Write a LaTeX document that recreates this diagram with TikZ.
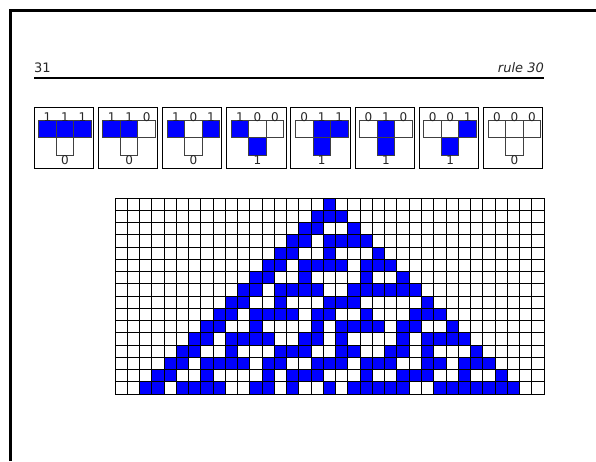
\documentclass[tikz,border=0pt]{standalone}
\usepackage{fontspec}
\setmainfont{DejaVu Sans}
\usepackage{xcolor}
\usepackage{tikz}

\colorlet{bit0}{white}
\colorlet{bit1}{blue}
\tikzset{
  cagrid/.style={draw=black, line width=1pt, line cap=rect},
  rulecell/.style={draw=black!75, line width=1pt},
  rulebox/.style={draw=black, line width=1pt},
  bitlabel/.style={anchor=base, inner sep=0pt, text=black!85, font=\fontsize{12}{13}\selectfont},
  headtext/.style={inner sep=0pt, text=black!85, font=\fontsize{13}{15}\selectfont},
}

\begin{document}
\begin{tikzpicture}[x=1pt,y=-1pt]
\useasboundingbox (0,0) rectangle (596,461);
\draw[line width=3pt] (10.5,461) -- (10.5,10.5) -- (596,10.5);
%
\node[headtext, anchor=base west] (pagenum) at (34,72) {31};
\node[headtext, anchor=base east, font=\fontsize{13}{15}\selectfont\itshape] (rulename) at (544,72) {rule 30};
\draw[line width=2pt] (34,77.5) -- (544,77.5);
%
% the eight neighbourhoods and what they give
\foreach \a/\b/\c/\o [count=\i from 0] in {1/1/1/0,1/1/0/0,1/0/1/0,1/0/0/1,0/1/1/1,0/1/0/1,0/0/1/1,0/0/0/0}{
  \pgfmathsetmacro\bx{34+64.2*\i}
  \draw[rulebox] (\bx,107) rectangle ++(59.5,61);
  \filldraw[rulecell, fill=bit\a] (\bx+4.7,120) rectangle ++(17.5,17.5);
  \filldraw[rulecell, fill=bit\b] (\bx+22.2,120) rectangle ++(17.5,17.5);
  \filldraw[rulecell, fill=bit\c] (\bx+39.7,120) rectangle ++(17.5,17.5);
  \filldraw[rulecell, fill=bit\o] (\bx+22.2,137.5) rectangle ++(17.5,17.5);
  \node[bitlabel] (left\i) at (\bx+13.45,121) {\a};
  \node[bitlabel] (mid\i) at (\bx+30.95,121) {\b};
  \node[bitlabel] (right\i) at (\bx+48.45,121) {\c};
  \node[bitlabel] (out\i) at (\bx+30.95,164) {\o};
}
%
% sixteen steps from one black cell
\foreach \r/\cells in {0/{17}, 1/{16,17,18}, 2/{15,16,19}, 3/{14,15,17,18,19,20},
  4/{13,14,17,21}, 5/{12,13,15,16,17,18,20,21,22}, 6/{11,12,15,20,23},
  7/{10,11,13,14,15,16,19,20,21,22,23,24}, 8/{9,10,13,17,18,19,25},
  9/{8,9,11,12,13,14,16,17,20,24,25,26}, 10/{7,8,11,16,18,19,20,21,23,24,27},
  11/{6,7,9,10,11,12,15,16,18,23,25,26,27,28}, 12/{5,6,9,13,14,15,18,19,22,23,25,29},
  13/{4,5,7,8,9,10,12,13,16,17,18,20,21,22,25,26,28,29,30},
  14/{3,4,7,12,14,15,16,20,23,24,25,28,31},
  15/{2,3,5,6,7,8,11,12,14,17,19,20,21,22,23,26,27,28,29,30,31,32}}{
  \foreach \c in \cells
    \fill[blue] (115+12.26*\c,198+12.26*\r) rectangle ++(12.26,12.26);
}
\foreach \c in {0,...,35}
  \draw[cagrid] (115+12.26*\c,198) -- ++(0,196.16);
\foreach \r in {0,...,16}
  \draw[cagrid] (115,198+12.26*\r) -- ++(429.1,0);
\end{tikzpicture}
\end{document}
